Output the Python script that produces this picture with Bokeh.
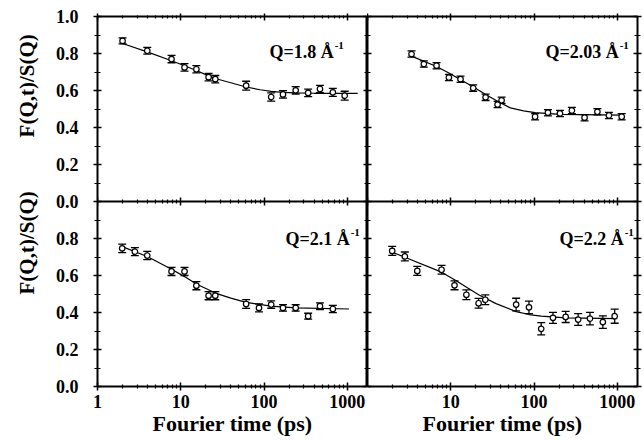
import math
from bokeh.plotting import figure
from bokeh.layouts import row
from bokeh.models import (LogAxis, LinearAxis, FixedTicker, Range1d, ColumnDataSource,
                          Label, Span)
from bokeh.core.properties import value
from bokeh.embed import file_html
from bokeh.resources import INLINE

FONT = "Liberation Serif"

# ---------------- data ----------------
# Q = 1.8 (upper left)
t_a = [2, 3.96, 7.75, 11.1, 15.4, 21.6, 26, 61, 122, 169, 240, 339, 470, 671, 931]
f_a = [0.868, 0.815, 0.770, 0.725, 0.715, 0.672, 0.661, 0.626, 0.565, 0.579, 0.601, 0.587, 0.608, 0.590, 0.572]
e_a = [0.016, 0.018, 0.02, 0.02, 0.02, 0.02, 0.02, 0.024, 0.022, 0.02, 0.02, 0.02, 0.02, 0.022, 0.024]
ct_a = [2, 3.96, 7.75, 11.1, 15.4, 21.6, 26, 61, 90, 122, 169, 240, 400, 1334]
cf_a = [0.854, 0.809, 0.761, 0.734, 0.708, 0.679, 0.665, 0.619, 0.604, 0.595, 0.590, 0.587, 0.585, 0.585]

# Q = 2.03 (upper right)
t_b = [3.38, 4.75, 6.75, 9.5, 13.1, 18.6, 26.2, 36.5, 40.8, 103, 147, 205, 285, 405, 577, 795, 1130]
f_b = [0.797, 0.743, 0.734, 0.670, 0.661, 0.613, 0.563, 0.524, 0.547, 0.458, 0.480, 0.476, 0.492, 0.453, 0.485, 0.465, 0.458]
e_b = [0.017] * 17
ct_b = [3.38, 6.75, 9.5, 13.1, 18.6, 26.2, 36.5, 52, 75, 103, 205, 1130]
cf_b = [0.786, 0.730, 0.695, 0.658, 0.620, 0.578, 0.542, 0.506, 0.490, 0.480, 0.471, 0.467]

# Q = 2.1 (lower left)
t_c = [1.98, 2.81, 3.96, 7.75, 11.1, 15.4, 21.6, 26, 61, 87, 122, 169, 240, 339, 470, 671]
f_c = [0.747, 0.729, 0.708, 0.622, 0.622, 0.545, 0.491, 0.491, 0.446, 0.425, 0.443, 0.425, 0.425, 0.380, 0.434, 0.419]
e_c = [0.023, 0.022, 0.022, 0.022, 0.022, 0.022, 0.022, 0.022, 0.024, 0.022, 0.02, 0.018, 0.018, 0.016, 0.018, 0.02]
ct_c = [1.98, 3.96, 7.75, 11.1, 15.4, 26, 40, 61, 122, 240, 1050]
cf_c = [0.756, 0.703, 0.634, 0.594, 0.554, 0.505, 0.478, 0.455, 0.434, 0.425, 0.419]

# Q = 2.2 (lower right)
t_d = [1.98, 2.81, 3.96, 7.75, 11.1, 15.4, 21.6, 26, 61, 87, 122, 169, 240, 339, 470, 671, 931]
f_d = [0.733, 0.703, 0.625, 0.631, 0.547, 0.496, 0.450, 0.469, 0.443, 0.428, 0.312, 0.371, 0.376, 0.362, 0.367, 0.348, 0.380]
e_d = [0.024, 0.024, 0.024, 0.024, 0.024, 0.026, 0.026, 0.026, 0.034, 0.034, 0.033, 0.03, 0.03, 0.032, 0.034, 0.034, 0.038]
ct_d = [1.98, 2.81, 7.75, 11.1, 21.6, 35, 61, 87, 122, 240, 1000]
cf_d = [0.726, 0.699, 0.618, 0.577, 0.496, 0.448, 0.405, 0.389, 0.380, 0.371, 0.367]

labels = ["Q=1.8 Å", "Q=2.03 Å", "Q=2.1 Å", "Q=2.2 Å"]
label_x = [687, 1040, 1069, 1194]
label_y = [0.81, 0.81, 0.80, 0.80]

y_title = "F(Q,t)/S(Q)"
x_title = "Fourier time (ps)"

x_major = [1, 10, 100, 1000]
x_minor = [m * d for d in (1, 10, 100) for m in range(2, 10)]
y_major = [0.0, 0.2, 0.4, 0.6, 0.8, 1.0]
y_minor = [0.1, 0.3, 0.5, 0.7, 0.9]

H = 438
TICK_FS = "18px"

# Each column is one figure: the upper panel uses the default y-range (-1..1, data in 0..1),
# the lower panel uses the extra range "bot" (0..2, data in 0..1).
y_ticks = sorted(set([round(v - 1, 1) for v in y_major] + y_major))
y_minor_all = [round(v - 1, 1) for v in y_minor] + y_minor
y_tick_text = {v: "%.1f" % (v + 1 if v < 0 else v) for v in y_ticks}


def blank_axis(ax, tin, tout, min_in=None, min_out=None):
    ax.major_label_text_font_size = "1px"
    ax.major_label_text_alpha = 0
    ax.major_label_standoff = 0
    ax.axis_line_color = None
    ax.major_tick_in = tin
    ax.major_tick_out = tout
    ax.minor_tick_in = min_in if min_in is not None else max(tin - 2, 0)
    ax.minor_tick_out = min_out if min_out is not None else max(tout - 2, 0)
    ax.major_tick_line_width = 1.5
    ax.minor_tick_line_width = 1.2


def style_labels(ax, title_size):
    ax.major_label_text_font = FONT
    ax.major_label_text_font_style = "bold"
    ax.major_label_text_font_size = TICK_FS
    ax.major_label_text_color = "black"
    ax.axis_label_text_font = FONT
    ax.axis_label_text_font_style = "bold"
    ax.axis_label_text_font_size = title_size
    ax.axis_label_text_color = "black"
    ax.axis_line_color = None
    ax.major_tick_line_width = 1.5
    ax.minor_tick_line_width = 1.2


def draw(p, t, f, e, ct, cf, text, lx, ly, yname):
    src = ColumnDataSource(dict(t=t, f=f, up=[a + b for a, b in zip(f, e)],
                                lo=[a - b for a, b in zip(f, e)]))
    p.line(ct, cf, line_color="black", line_width=1.2, y_range_name=yname)
    p.segment(x0="t", y0="lo", x1="t", y1="up", source=src, line_color="black",
              line_width=1.3, y_range_name=yname)
    p.scatter("t", "up", source=src, marker="dash", size=8, line_color="black",
              line_width=1.3, y_range_name=yname)
    p.scatter("t", "lo", source=src, marker="dash", size=8, line_color="black",
              line_width=1.3, y_range_name=yname)
    p.scatter("t", "f", source=src, marker="circle", size=5.5, fill_color="white",
              line_color="black", line_width=1.2, y_range_name=yname)
    p.add_layout(Label(x=lx, y=ly, text=text, text_align="right", text_baseline="middle",
                       text_font=FONT, text_font_style="bold", text_font_size="18px",
                       text_color="black", y_range_name=yname))
    p.add_layout(Label(x=lx, y=ly, x_offset=1, y_offset=6, text="-1", text_align="left",
                       text_baseline="middle", text_font=FONT, text_font_style="bold",
                       text_font_size="11px", text_color="black", y_range_name=yname))


def column(left, top, bot):
    p = figure(x_axis_type="log", x_range=Range1d(1, 1750), y_range=Range1d(-1, 1),
               width=323 if left else 276, height=H, toolbar_location=None,
               output_backend="svg", x_axis_location=None, y_axis_location=None,
               min_border_left=53 if left else 0, min_border_right=0 if left else 6,
               min_border_top=16, min_border_bottom=50)
    p.extra_y_ranges = {"bot": Range1d(0, 2)}
    p.grid.visible = False
    p.outline_line_color = "black"
    p.outline_line_width = 2
    p.background_fill_color = "white"
    p.border_fill_color = "white"

    # bottom (labelled) time axis; the right column has no "1" label
    ticks_b = x_major if left else x_major[1:]
    xb = LogAxis(ticker=FixedTicker(ticks=ticks_b, minor_ticks=x_minor))
    style_labels(xb, "22px")
    xb.axis_label = x_title
    xb.axis_label_standoff = 0
    xb.major_label_standoff = 4
    xb.major_tick_in = 4
    xb.major_tick_out = 4
    xb.minor_tick_in = 2
    xb.minor_tick_out = 2
    xb.major_label_overrides = {v: "%d" % v for v in ticks_b}
    p.add_layout(xb, "below")

    # top edge ticks
    xa = LogAxis(ticker=FixedTicker(ticks=x_major, minor_ticks=x_minor))
    blank_axis(xa, 4, 3, 2, 1)
    p.add_layout(xa, "above")

    # ticks along the joint between the upper and lower panels
    xm = LogAxis(ticker=FixedTicker(ticks=x_major, minor_ticks=x_minor), fixed_location=0)
    blank_axis(xm, 4, 4, 2, 2)
    p.add_layout(xm, "above")

    yl = LinearAxis(ticker=FixedTicker(ticks=y_ticks, minor_ticks=y_minor_all))
    if left:
        style_labels(yl, "21px")
        yl.major_label_overrides = y_tick_text
        yl.major_label_standoff = 15
        yl.major_tick_in = 4
        yl.major_tick_out = 4
        yl.minor_tick_in = 3
        yl.minor_tick_out = 3
    else:
        blank_axis(yl, 4, 0, 3, 0)
    p.add_layout(yl, "left")

    yr = LinearAxis(ticker=FixedTicker(ticks=y_ticks, minor_ticks=y_minor_all))
    if left:
        blank_axis(yr, 4, 0, 3, 0)
    else:
        blank_axis(yr, 4, 4, 3, 3)
    p.add_layout(yr, "right")

    p.add_layout(Span(location=0, dimension="width", line_color="black", line_width=2))

    draw(p, *top, yname="default")
    draw(p, *bot, yname="bot")
    return p


# narrow strip that carries the two vertical axis titles (one per row of panels)
strip = figure(width=44, height=H, x_range=Range1d(0, 44), y_range=Range1d(0, H),
               toolbar_location=None, output_backend="svg", min_border=0,
               x_axis_location=None, y_axis_location=None)
strip.grid.visible = False
strip.outline_line_color = None
strip.text(x=[26, 26], y=[H - 82, H - 268], text=[y_title, y_title], angle=math.pi / 2,
           text_align="center", text_baseline="middle", text_font=value(FONT),
           text_font_style="bold", text_font_size="21px", text_color="black")

left_fig = column(True,
                  (t_a, f_a, e_a, ct_a, cf_a, labels[0], label_x[0], label_y[0]),
                  (t_c, f_c, e_c, ct_c, cf_c, labels[2], label_x[2], label_y[2]))
right_fig = column(False,
                   (t_b, f_b, e_b, ct_b, cf_b, labels[1], label_x[1], label_y[1]),
                   (t_d, f_d, e_d, ct_d, cf_d, labels[3], label_x[3], label_y[3]))

layout = row(strip, left_fig, right_fig)

open("out.html", "w").write(file_html(layout, INLINE))
